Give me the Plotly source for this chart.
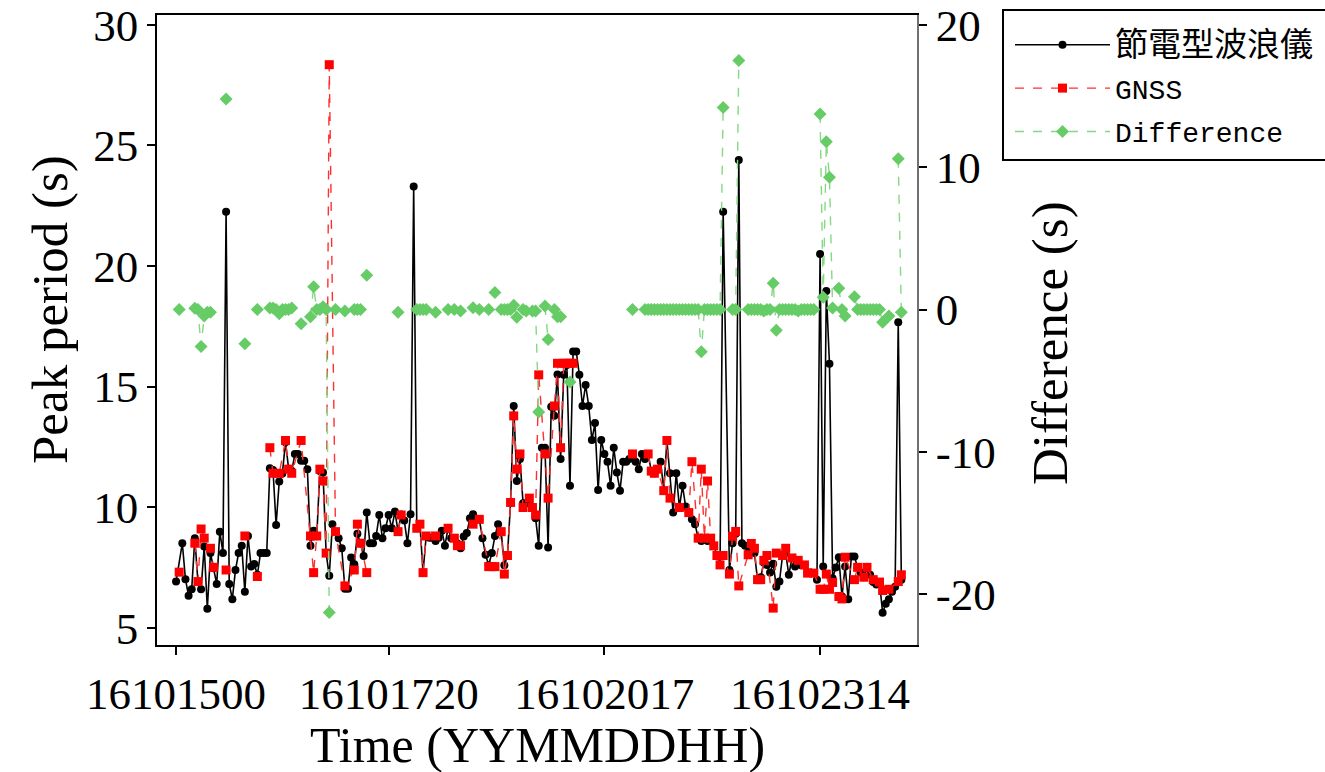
import plotly.graph_objects as go

# Hourly peak period from the power-saving wave buoy, hours counted from 2016-10-15 00h
buoy_period = [
    6.92, None, 8.51, 7.02, 6.33, 6.60, 8.72, 6.90, 6.60, 8.37,
    5.79, 8.10, 7.47, 6.82, 8.99, 8.10, 22.25, 6.82, 6.19, 7.40,
    8.10, 8.41, 6.50, 8.81, 7.54, 7.65, 7.20, 8.10, 8.10, 8.10,
    11.62, 11.55, 9.27, 11.07, 11.40, 12.70, 11.60, 11.50, 12.21, 12.21,
    11.93, 11.93, 11.58, 8.41, 9.03, 8.80, 11.50, 11.44, 8.10, 7.16,
    9.30, 8.99, 8.72, 8.30, 6.62, 6.62, 7.92, 7.64, 8.90, 8.50,
    7.98, 9.78, 8.51, 8.51, 8.81, 9.68, 8.72, 9.13, 9.68, 9.13,
    9.82, 9.00, 9.70, 9.45, 8.51, 9.71, 23.30, 9.13, 9.30, 7.30,
    8.81, 8.74, 8.74, 8.60, 8.74, 9.03, 8.41, 9.13, 8.72, 8.72,
    8.50, 8.30, 8.79, 8.93, 9.55, 9.71, 9.50, 9.50, 8.72, 8.03,
    7.60, 8.10, 8.81, 9.30, 8.99, 7.60, 8.00, 10.20, 14.20, 11.09,
    12.00, 10.17, 10.17, 10.17, 10.00, 9.55, 8.41, 12.47, 12.47, 8.33,
    14.17, 13.79, 15.50, 12.00, 15.49, 15.90, 10.89, 16.46, 16.46, 15.49,
    14.20, 15.07, 14.20, 12.79, 13.49, 10.72, 12.79, 12.21, 11.89, 10.89,
    12.47, 11.44, 10.69, 11.89, 11.89, 12.00, 12.21, 11.89, 11.58, 12.21,
    12.00, 12.21, 11.50, 11.41, 11.58, 11.89, 10.70, 12.77, 11.41, 9.78,
    11.41, 10.00, 10.89, 10.03, 9.78, 9.50, 9.30, 8.72, 8.60, 8.72,
    8.60, 8.72, 8.40, 8.00, 7.61, 22.25, None, 7.40, 8.51, 8.90,
    24.40, 8.51, 8.40, 8.10, 8.30, 8.10, 7.00, 7.10, 7.70, 7.61,
    7.30, 7.66, 6.70, 6.92, 8.00, 8.10, 7.20, 7.90, 7.54, 7.80,
    7.60, 7.61, 7.27, 7.30, 7.27, 7.00, 20.50, 7.54, 18.97, 15.95,
    7.06, 7.50, 7.93, 6.30, 7.54, 6.19, 7.96, 7.96, 7.50, 7.30,
    7.10, 7.50, 7.20, 6.90, 6.80, 6.90, 5.63, 6.00, 6.19, 6.50,
    6.71, 17.67, 7.00,
]
buoy_hour = list(range(len(buoy_period)))

# GNSS-derived peak period (hours with a valid estimate only)
gnss_hour = [
    1, 6, 7, 8, 9, 11, 12, 16, 22, 26, 30, 31, 33, 35, 36, 37, 40, 43, 44, 45,
    46, 47, 48, 49, 51, 54, 57, 58, 59, 61, 71, 72, 77, 78, 79, 80, 83, 87, 89, 90,
    91, 95, 97, 100, 101, 102, 104, 105, 106, 107, 108, 109, 110, 111, 113, 114, 115, 116, 118, 119,
    121, 122, 123, 124, 125, 126, 127, 146, 151, 152, 153, 154, 156, 157, 158, 161, 164, 165, 167, 168,
    169, 170, 171, 172, 173, 174, 175, 177, 178, 179, 180, 183, 184, 185, 186, 187, 188, 189, 191, 192,
    194, 195, 197, 199, 201, 202, 204, 206, 207, 208, 209, 210, 212, 213, 214, 217, 218, 220, 221, 223,
    225, 226, 228, 231, 232,
]
gnss_period = [
    7.31, 8.51, 6.92, 9.10, 8.72, 8.30, 7.51, 7.40, 8.81, 7.13, 12.47, 11.41, 11.41, 12.77, 11.58, 11.41, 12.77, 8.81, 7.29, 8.81,
    11.58, 11.09, 8.10, 28.35, 8.99, 6.74, 7.40, 9.30, 8.51, 7.29, 8.99, 9.68, 9.13, 9.30, 7.29, 8.81, 8.81, 9.13, 8.72, 8.41,
    8.41, 9.30, 9.50, 7.54, 7.54, 7.54, 8.99, 7.23, 8.00, 10.20, 13.79, 11.58, 12.21, 9.99, 10.38, 9.99, 9.68, 15.49, 12.21, 10.38,
    14.20, 15.97, 12.47, 15.97, 15.97, 15.97, 15.97, 12.21, 12.21, 11.50, 11.41, 11.58, 10.69, 12.77, 10.38, 9.99, 9.78, 11.89, 8.72, 11.58,
    8.72, 11.09, 8.72, 8.40, 8.00, 7.61, 8.00, 7.23, 8.80, 9.00, 6.74, 8.03, 8.50, 8.30, 7.00, 7.00, 7.80, 8.00, 5.82, 8.10,
    8.00, 8.30, 7.90, 7.80, 7.61, 7.27, 7.27, 6.60, 6.60, 7.23, 6.60, 6.88, 6.30, 6.20, 7.93, 7.00, 7.51, 7.10, 7.51, 7.00,
    6.90, 6.55, 6.60, 6.92, 7.20,
]

# Buoy minus GNSS peak period (right axis)
diff_hour = [
    1, 6, 7, 8, 9, 10, 11, 16, 22, 26, 30, 31, 32, 33, 34, 35, 36, 37, 40, 43,
    44, 45, 46, 47, 48, 49, 51, 54, 57, 58, 59, 61, 71, 77, 78, 79, 80, 83, 87, 89,
    91, 95, 97, 100, 102, 104, 105, 106, 107, 108, 109, 111, 112, 114, 115, 116, 118, 119, 121, 122,
    123, 126, 146, 150, 151, 152, 153, 154, 155, 156, 157, 158, 159, 160, 161, 162, 163, 164, 165, 166,
    167, 168, 169, 170, 171, 172, 173, 174, 175, 178, 179, 180, 183, 184, 185, 186, 187, 188, 189, 190,
    191, 192, 193, 194, 195, 196, 197, 198, 199, 200, 201, 202, 203, 204, 206, 207, 208, 209, 210, 212,
    213, 214, 217, 218, 219, 220, 221, 222, 223, 224, 225, 226, 228, 231, 232,
]
diff_value = [
    0.0, 0.08, 0.0, -2.6, -0.45, -0.2, -0.2, 14.8, -2.4, 0.0, 0.1, 0.1, 0.0, -0.3, 0.0, 0.0, 0.0, 0.1, -1.0, -0.5,
    1.6, 0.0, 0.0, 0.2, 0.0, -21.3, 0.0, -0.1, 0.0, 0.0, 0.0, 2.4, -0.2, 0.0, 0.0, 0.0, 0.0, -0.2, 0.0, 0.0,
    -0.1, 0.13, 0.0, 0.0, 1.2, 0.0, 0.0, 0.0, 0.0, 0.3, -0.55, 0.0, -0.1, -0.1, -0.1, -7.2, 0.25, -2.1, 0.0, -0.5,
    -0.5, -5.1, 0.0, 0.0, 0.0, 0.0, 0.0, 0.0, 0.0, 0.0, 0.0, 0.0, 0.0, 0.0, 0.0, 0.0, 0.0, 0.0, 0.0, 0.0,
    0.0, -2.96, 0.0, 0.0, 0.0, 0.0, 0.0, 0.0, 14.2, 0.0, 0.0, 17.5, 0.0, 0.0, 0.0, 0.0, 0.0, -0.1, 0.0, 0.0,
    1.84, -1.45, 0.0, 0.0, 0.0, 0.0, 0.0, 0.0, -0.1, 0.0, 0.0, 0.0, 0.0, 0.0, 13.75, 0.86, 11.8, 9.3, 0.1, 1.5,
    0.0, -0.45, 0.9, 0.0, 0.0, 0.0, 0.0, 0.0, 0.0, 0.0, 0.0, -0.9, -0.45, 10.6, -0.2,
]

tick_hours = [0, 68, 137, 206]
tick_labels = ["16101500", "16101720", "16102017", "16102314"]
left_ticks = [5, 10, 15, 20, 25, 30]
right_ticks = [-20, -10, 0, 10, 20]


def split_gaps(hours, values, max_gap):
    """Insert None where consecutive samples are too far apart so the line breaks."""
    xs, ys = [], []
    for i, (h, v) in enumerate(zip(hours, values)):
        if i and h - hours[i - 1] > max_gap:
            xs.append(None)
            ys.append(None)
        xs.append(h)
        ys.append(v)
    return xs, ys


gnss_x, gnss_y = split_gaps(gnss_hour, gnss_period, 3)
diff_x, diff_y = split_gaps(diff_hour, diff_value, 1)

SERIF = "Liberation Serif, Times New Roman, serif"
LEGEND_FONT = "Liberation Mono, Noto Sans CJK TC, monospace"

fig = go.Figure()
fig.add_trace(go.Scatter(
    x=buoy_hour, y=buoy_period, mode="lines+markers", legendgroup="buoy",
    name='<span style="font-size:33px">節電型波浪儀</span>',
    connectgaps=True,
    line=dict(color="black", width=1.6),
    marker=dict(symbol="circle", size=8, color="black"),
))
fig.add_trace(go.Scatter(
    x=gnss_x, y=gnss_y, name="GNSS", mode="lines+markers", legendgroup="gnss",
    line=dict(color="#ff3030", width=1.4, dash="dash"),
    marker=dict(symbol="square", size=9, color="#ff0000"),
))
fig.add_trace(go.Scatter(
    x=diff_x, y=diff_y, name="Difference", mode="lines+markers", yaxis="y2",
    legendgroup="diff",
    line=dict(color="#85d885", width=1.4, dash="dash"),
    marker=dict(symbol="diamond", size=10, color="#66cc66"),
))

axis_common = dict(
    showgrid=False, zeroline=False, ticks="outside", ticklen=8, tickwidth=1.5,
    tickcolor="black", tickfont=dict(family=SERIF, size=45, color="black"),
)

# Convert canvas pixels to paper coordinates of the plotting area
x_px = lambda px: (px - 157) / 760
y_px = lambda py: (645 - py) / 630

fig.update_layout(
    width=1325, height=772,
    margin=dict(l=157, r=408, t=15, b=127, autoexpand=False),
    paper_bgcolor="white", plot_bgcolor="white",
    showlegend=True,
    xaxis=dict(
        range=[-6.1, 237.0], tickmode="array", tickvals=tick_hours, ticktext=tick_labels,
        showline=True, linecolor="black", linewidth=1.5, mirror=True,
        **axis_common,
    ),
    yaxis=dict(
        range=[4.29, 30.41], tickmode="array", tickvals=left_ticks,
        ticktext=[str(v) for v in left_ticks],
        showline=True, linecolor="black", linewidth=1.5,
        **axis_common,
    ),
    yaxis2=dict(
        range=[-23.58, 20.7], overlaying="y", side="right",
        tickmode="array", tickvals=right_ticks, ticktext=[str(v) for v in right_ticks],
        showline=True, linecolor="#707070", linewidth=1.5,
        **axis_common,
    ),
    legend=dict(
        x=x_px(1010), y=y_px(20), xanchor="left", yanchor="top",
        bgcolor="rgba(0,0,0,0)", borderwidth=0,
        font=dict(family=LEGEND_FONT, size=28, color="black"),
        itemwidth=95, tracegroupgap=4,
    ),
    shapes=[
        dict(type="rect", xref="paper", yref="paper",
             x0=x_px(1003), x1=x_px(1330), y0=y_px(160), y1=y_px(10),
             line=dict(color="black", width=2), fillcolor="rgba(0,0,0,0)", layer="below"),
    ],
    annotations=[
        dict(text="Peak period (s)", xref="paper", yref="paper", x=x_px(50), y=y_px(310),
             textangle=-90, showarrow=False, xanchor="center", yanchor="middle",
             font=dict(family=SERIF, size=51, color="black")),
        dict(text="Difference (s)", xref="paper", yref="paper", x=x_px(1050), y=y_px(343),
             textangle=-90, showarrow=False, xanchor="center", yanchor="middle",
             font=dict(family=SERIF, size=51, color="black")),
        dict(text="Time (YYMMDDHH)", xref="paper", yref="paper", x=0.5, y=y_px(745),
             showarrow=False, xanchor="center", yanchor="middle",
             font=dict(family=SERIF, size=50, color="black")),
    ],
)

fig.write_html("out.html")
